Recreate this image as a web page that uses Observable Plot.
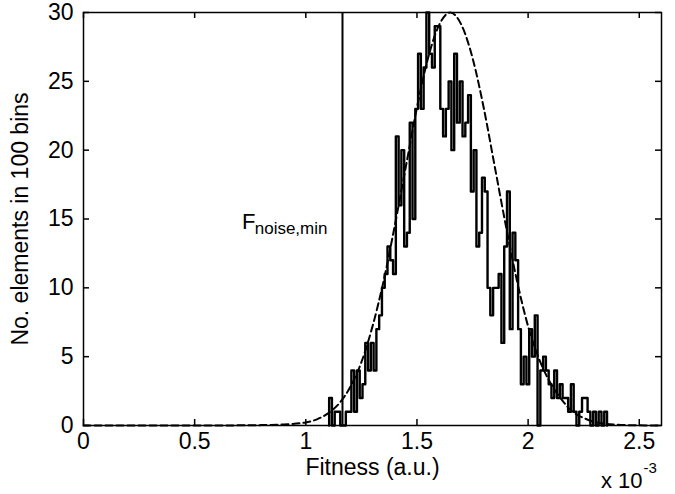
<!DOCTYPE html>
<html>
<head>
<meta charset="utf-8">
<script src="https://cdn.jsdelivr.net/npm/d3@7"></script>
<script src="https://cdn.jsdelivr.net/npm/@observablehq/plot@0.6"></script>
<style>
  body { margin: 0; background: #fff; }
  #chart svg { display: block; }
</style>
</head>
<body>
<div id="chart"></div>
<script>
// Histogram of fitness values: 100 equal bins
const binStart = 1.105;   // left edge of the first bin (x 10^-3)
const binWidth = 0.0125;  // bin width (x 10^-3)
const binCounts = [
  2, 0, 1, 1, 0, 0, 1, 1, 4, 1,
  4, 2, 3, 6, 4, 6, 4, 7, 8, 10,
  11, 13, 12, 11, 21, 16, 20, 13, 14, 22,
  15, 23, 27, 23, 26, 30, 27, 26, 29, 29,
  23, 21, 23, 25, 20, 27, 22, 25, 21, 22,
  24, 17, 20, 13, 14, 18, 17, 10, 8, 10,
  10, 11, 6, 13, 17, 7, 14, 12, 7, 3,
  5, 3, 7, 5, 8, 0, 4, 5, 4, 3,
  2, 4, 2, 3, 2, 2, 1, 3, 1, 0,
  1, 2, 2, 1, 0, 1, 0, 1, 0, 1
];

// Fitted normal curve (dashed)
const fitX = [0, 0.5, 0.7, 0.8, 0.9, 1.0, 1.05, 1.1, 1.15, 1.2, 1.25, 1.3, 1.35, 1.4, 1.45, 1.5, 1.55, 1.6, 1.65,
              1.7, 1.75, 1.8, 1.85, 1.9, 1.95, 2.0, 2.05, 2.1, 2.15, 2.2, 2.25, 2.3, 2.4, 2.5, 2.6];
const fitY = [0, 0, 0.01, 0.03, 0.08, 0.22, 0.45, 0.88, 1.6, 2.8, 4.6, 7.2, 10.5, 14.5, 18.8, 23.1, 26.7, 29.1, 30,
              29.1, 26.7, 23.1, 18.8, 14.5, 10.5, 7.2, 4.8, 3.1, 1.9, 1.0, 0.55, 0.25, 0.06, 0.01, 0];

// Noise threshold marker
const fNoiseMin = 1.165;
const fNoiseLabel = ["F", "noise,min"];

// Axis ticks
const xTicks = [0, 0.5, 1, 1.5, 2, 2.5];
const yTicks = [0, 5, 10, 15, 20, 25, 30];
const xDomain = [0, 2.6];
const yDomain = [0, 30];

// Stair outline of the histogram: one point per bin edge
const stairs = [{x: binStart, y: 0}];
binCounts.forEach((c, i) => stairs.push({x: binStart + i * binWidth, y: c}));
stairs.push({x: binStart + binCounts.length * binWidth, y: 0});

const fit = fitX.map((x, i) => ({x, y: fitY[i]}));

const W = 675, H = 494;
const mL = 83, mR = 14, mT = 12, mB = 69;
const innerW = W - mL - mR, innerH = H - mT - mB;
const tickLen = 6;
const fs = 23;

const chart = Plot.plot({
  width: W,
  height: H,
  marginLeft: mL,
  marginRight: mR,
  marginTop: mT,
  marginBottom: mB,
  style: {fontFamily: "'Liberation Sans', Arial, sans-serif", fontSize: fs + "px", color: "black", background: "white"},
  x: {domain: xDomain},
  y: {domain: yDomain},
  marks: [
    // inward ticks on all four sides
    Plot.ruleX(xTicks, {x: d => d, insetTop: innerH - tickLen, stroke: "black", strokeWidth: 1.5}),
    Plot.ruleX(xTicks, {x: d => d, insetBottom: innerH - tickLen, stroke: "black", strokeWidth: 1.5}),
    Plot.ruleY(yTicks, {y: d => d, insetRight: innerW - tickLen, stroke: "black", strokeWidth: 1.5}),
    Plot.ruleY(yTicks, {y: d => d, insetLeft: innerW - tickLen, stroke: "black", strokeWidth: 1.5}),
    Plot.axisX({ticks: xTicks, tickSize: 0, tickPadding: 7, tickFormat: d => String(d), label: null, fill: "black", fontSize: fs}),
    Plot.axisY({ticks: yTicks, tickSize: 0, tickPadding: 10, tickFormat: d => String(d), label: null, fill: "black", fontSize: fs}),
    // threshold line
    Plot.ruleX([fNoiseMin], {x: d => d, y1: yDomain[0], y2: yDomain[1], stroke: "black", strokeWidth: 2}),
    // histogram
    Plot.line(stairs, {x: "x", y: "y", curve: "step-after", stroke: "black", strokeWidth: 2.4}),
    // fitted curve
    Plot.line(fit, {x: "x", y: "y", curve: "monotone-x", stroke: "black", strokeWidth: 2, strokeDasharray: "7,4"}),
    // threshold label with subscript
    Plot.text([fNoiseLabel[0]], {x: fNoiseMin, y: 15, text: d => d, textAnchor: "end", lineAnchor: "bottom", dx: -87, dy: 10, fontSize: 22, fill: "black"}),
    Plot.text([fNoiseLabel[1]], {x: fNoiseMin, y: 15, text: d => d, textAnchor: "end", lineAnchor: "bottom", dx: -15, dy: 15, fontSize: 17, fill: "black"}),
    // axis titles
    Plot.text(["Fitness (a.u.)"], {frameAnchor: "bottom", text: d => d, textAnchor: "middle", dy: 42, lineAnchor: "middle", fontSize: fs, fill: "black"}),
    Plot.text(["No. elements in 100 bins"], {frameAnchor: "left", text: d => d, textAnchor: "middle", dx: -63, rotate: -90, lineAnchor: "middle", fontSize: fs, fill: "black"}),
    // exponent of the x scale
    Plot.text(["x 10"], {frameAnchor: "bottom-right", text: d => d, textAnchor: "end", lineAnchor: "middle", dx: -19, dy: 55, fontSize: 22, fill: "black"}),
    Plot.text(["-3"], {frameAnchor: "bottom-right", text: d => d, textAnchor: "start", lineAnchor: "middle", dx: -18, dy: 43, fontSize: 15, fill: "black"}),
    Plot.frame({stroke: "black", strokeWidth: 1.5})
  ]
});

document.getElementById("chart").appendChild(chart);
</script>
</body>
</html>
